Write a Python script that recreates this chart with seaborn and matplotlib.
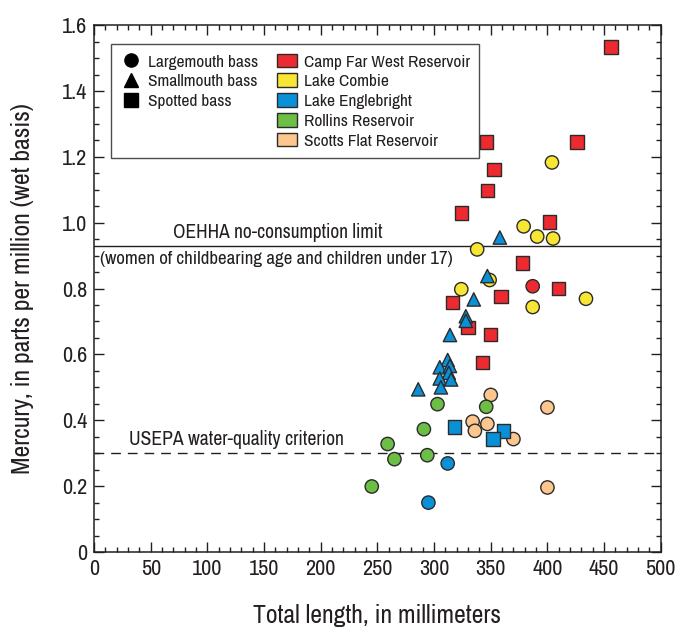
import matplotlib
matplotlib.use("Agg")
import matplotlib.pyplot as plt
from matplotlib.lines import Line2D
from matplotlib.patches import Patch
from matplotlib.ticker import MultipleLocator, FuncFormatter
import seaborn as sns
import pandas as pd
from matplotlib import font_manager

# ---------------- data ----------------
lakes = ["Camp Far West Reservoir", "Lake Combie", "Lake Englebright",
         "Rollins Reservoir", "Scotts Flat Reservoir"]
species = ["Largemouth bass", "Smallmouth bass", "Spotted bass"]
lake_colors = ["#ED2A2F", "#F7E634", "#0A90D6", "#6CBE45", "#FCC68E"]

# Camp Far West Reservoir
cfw_spot_len = [456, 346, 426, 353, 347, 324, 402, 378, 410, 359, 316, 330, 350, 343]
cfw_spot_hg = [1.534, 1.245, 1.245, 1.162, 1.098, 1.029, 1.002, 0.878, 0.800, 0.775, 0.757, 0.682, 0.661, 0.576]
cfw_large_len = [387]
cfw_large_hg = [0.807]

# Lake Combie
com_large_len = [404, 379, 391, 405, 338, 349, 324, 434, 387]
com_large_hg = [1.183, 0.989, 0.958, 0.952, 0.919, 0.826, 0.798, 0.769, 0.744]

# Lake Englebright
eng_small_len = [358, 347, 335, 328, 328, 314, 312, 305, 314, 313, 305, 315, 306, 286]
eng_small_hg = [0.955, 0.838, 0.767, 0.716, 0.702, 0.659, 0.583, 0.561, 0.565, 0.544, 0.527, 0.524, 0.500, 0.494]
eng_spot_len = [318, 361, 352]
eng_spot_hg = [0.380, 0.367, 0.343]
eng_large_len = [312, 295]
eng_large_hg = [0.269, 0.150]

# Rollins Reservoir
rol_large_len = [303, 346, 291, 259, 265, 294, 245]
rol_large_hg = [0.449, 0.441, 0.373, 0.328, 0.282, 0.294, 0.199]

# Scotts Flat Reservoir
sco_large_len = [350, 400, 334, 347, 336, 370, 400]
sco_large_hg = [0.477, 0.439, 0.396, 0.389, 0.368, 0.343, 0.196]

oehha_limit = 0.93
usepa_criterion = 0.30

groups = [
    (lakes[0], species[2], cfw_spot_len, cfw_spot_hg),
    (lakes[0], species[0], cfw_large_len, cfw_large_hg),
    (lakes[1], species[0], com_large_len, com_large_hg),
    (lakes[4], species[0], sco_large_len, sco_large_hg),
    (lakes[3], species[0], rol_large_len, rol_large_hg),
    (lakes[2], species[2], eng_spot_len, eng_spot_hg),
    (lakes[2], species[0], eng_large_len, eng_large_hg),
    (lakes[2], species[1], eng_small_len, eng_small_hg),
]
rows = []
for lk, sp, L, H in groups:
    for a, b in zip(L, H):
        rows.append({"lake": lk, "species": sp, "length": a, "mercury": b})
df = pd.DataFrame(rows)

# ---------------- style ----------------
sns.set_theme(style="ticks")
ttf = font_manager.fontManager.ttflist
narrow = [f.name for f in ttf if "Narrow" in f.name or "Condensed" in f.name]
cond = [f.name for f in ttf if str(f.stretch) in ("condensed", "semi-condensed", "extra-condensed")]
if narrow:
    plt.rcParams["font.family"] = [narrow[0], "DejaVu Sans"]
elif cond:
    plt.rcParams["font.family"] = [cond[0], "DejaVu Sans"]
    plt.rcParams["font.stretch"] = "condensed"
else:
    plt.rcParams["font.family"] = ["DejaVu Sans"]
    plt.rcParams["font.stretch"] = "condensed"
text_color = "#231F20"

fig = plt.figure(figsize=(6.77, 6.28), dpi=100)
ax = fig.add_axes([0.139, 0.121, 0.837, 0.839])

palette = dict(zip(lakes, lake_colors))
markers = {species[0]: "o", species[1]: "^", species[2]: "s"}

sns.scatterplot(data=df, x="length", y="mercury", hue="lake", style="species",
                palette=palette, markers=markers, s=92, edgecolor="#2B2B2B",
                linewidth=1.0, legend=False, ax=ax, zorder=3)

ax.axhline(oehha_limit, color=text_color, lw=1.0, zorder=1)
ax.axhline(usepa_criterion, color=text_color, lw=1.0, ls=(0, (7, 5)), zorder=1)

ax.text(162, oehha_limit + 0.012, "OEHHA no-consumption limit", ha="center", va="bottom",
        fontsize=14, color=text_color)
ax.text(5, oehha_limit - 0.015, "(women of childbearing age and children under 17)",
        ha="left", va="top", fontsize=13.6, color=text_color)
ax.text(31, usepa_criterion + 0.013, "USEPA water-quality criterion", ha="left", va="bottom",
        fontsize=14.2, color=text_color)

ax.set_xlim(0, 500)
ax.set_ylim(0, 1.6)
ax.xaxis.set_major_locator(MultipleLocator(50))
ax.xaxis.set_minor_locator(MultipleLocator(10))
ax.yaxis.set_major_locator(MultipleLocator(0.2))
ax.yaxis.set_minor_locator(MultipleLocator(0.05))
ax.yaxis.set_major_formatter(FuncFormatter(lambda v, p: "0" if abs(v) < 1e-9 else f"{v:.1f}"))
ax.tick_params(which="both", direction="in", top=True, right=True, colors=text_color,
               labelcolor=text_color, labelsize=16)
ax.tick_params(which="major", length=7, width=1, pad=5)
ax.tick_params(which="minor", length=3.5, width=1)
for sp in ax.spines.values():
    sp.set_color(text_color)
    sp.set_linewidth(1.1)

ax.set_xlabel("Total length, in millimeters", fontsize=18.5, color=text_color, labelpad=18)
ax.set_ylabel("Mercury, in parts per million (wet basis)", fontsize=18.5, color=text_color,
              labelpad=20)

# legend
handles = [Line2D([], [], marker=markers[s], color="black", ls="", markersize=9.5)
           for s in species]
handles += [Line2D([], [], ls="", marker=None)] * 2
handles += [Patch(facecolor=c, edgecolor="#2B2B2B", lw=1) for c in lake_colors]
labels = species + ["", ""] + lakes
leg = ax.legend(handles, labels, loc="upper left", bbox_to_anchor=(0.03, 0.964), ncol=2,
                borderaxespad=0, frameon=True, fancybox=False, edgecolor=text_color,
                fontsize=12.5, handlelength=1.15, handleheight=0.85, handletextpad=0.4,
                columnspacing=1.1, labelspacing=0.22, borderpad=0.55)
leg.get_frame().set_linewidth(1.0)
leg.set_zorder(2)
for t in leg.get_texts():
    t.set_color(text_color)

fig.savefig("out.png", dpi=100)
